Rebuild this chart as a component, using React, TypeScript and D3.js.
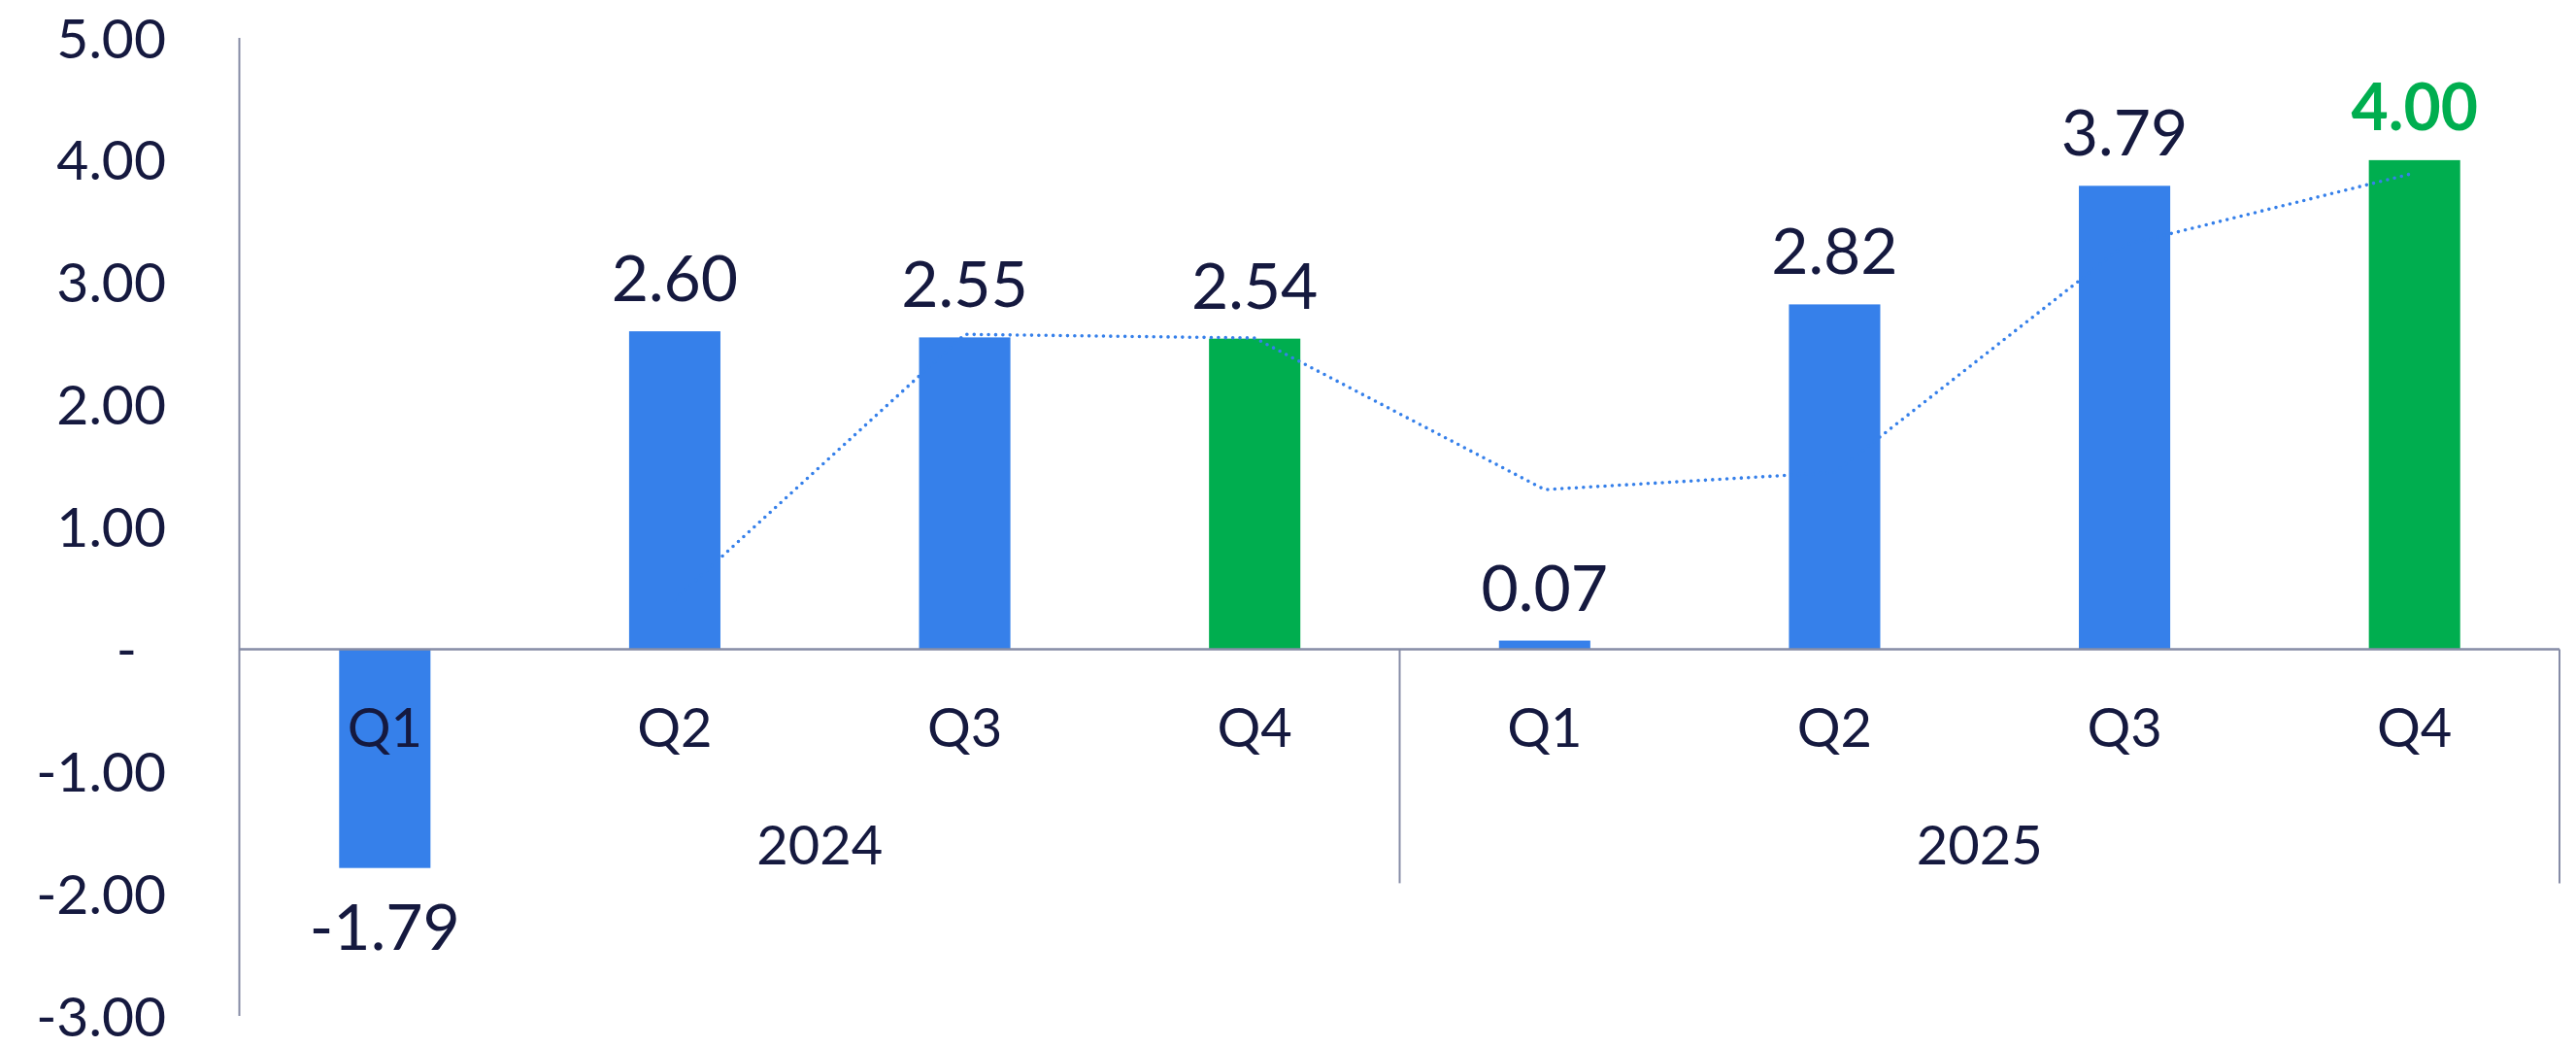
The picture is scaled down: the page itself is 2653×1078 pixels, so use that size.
import React from "react";
import * as d3 from "d3";

const quarters = ["Q1", "Q2", "Q3", "Q4", "Q1", "Q2", "Q3", "Q4"];
const years = ["2024", "2025"];
const quartersPerYear = 4;
const values = [-1.79, 2.6, 2.55, 2.54, 0.07, 2.82, 3.79, 4.0];
const yTicks = [-3, -2, -1, 0, 1, 2, 3, 4, 5];
const yTickLabels = ["-3.00", "-2.00", "-1.00", "-", "1.00", "2.00", "3.00", "4.00", "5.00"];

const W = 2653;
const H = 1078;
const FONT = "Lato, 'Open Sans', sans-serif";
const TEXT = "#15193F";
const BLUE = "#3680EA";
const GREEN = "#00AE4F";
const AXIS = "#868CA6";

export default function App() {
  const left = 247;
  const right = 2636;
  const x = d3
    .scaleBand<number>()
    .domain(values.map((_, i) => i))
    .range([left, right])
    .paddingInner(0.685)
    .paddingOuter(0.3425);
  const y = d3.scaleLinear().domain([-3, 5]).range([1046, 39]);
  const step = x.step();
  const bw = x.bandwidth();
  const cx = (i: number) => (x(i) as number) + bw / 2;
  const y0 = y(0);

  const ma = values.slice(1).map((v, k) => ({ i: k + 1, v: (values[k] + v) / 2 }));
  const line = d3
    .line<{ i: number; v: number }>()
    .x((d) => cx(d.i))
    .y((d) => y(d.v));

  const groupStart = (g: number) => left + step * quartersPerYear * g;

  return (
    <svg
      width={W}
      height={H}
      style={{ position: "absolute", left: 0, top: 0, background: "#fff" }}
      fontFamily={FONT}
    >
      {/* y tick labels */}
      {yTicks.map((t, k) => (
        <text
          key={"yt" + k}
          x={yTickLabels[k] === "-" ? 141 : 171}
          y={y(t)}
          dy="0.36em"
          textAnchor="end"
          fontSize={57}
          fill={TEXT}
        >
          {yTickLabels[k]}
        </text>
      ))}

      {/* bars */}
      {values.map((v, i) => (
        <rect
          key={"b" + i}
          x={x(i)}
          y={Math.min(y(v), y0)}
          width={bw}
          height={Math.abs(y(v) - y0)}
          fill={quarters[i] === "Q4" ? GREEN : BLUE}
        />
      ))}

      {/* axes */}
      <line x1={246.5} x2={246.5} y1={y(5)} y2={y(-3)} stroke={AXIS} strokeWidth={2} />
      <line x1={left} x2={right} y1={y0} y2={y0} stroke={AXIS} strokeWidth={2.5} />
      {years.map((_, g) => (
        <line
          key={"div" + g}
          x1={groupStart(g + 1)}
          x2={groupStart(g + 1)}
          y1={y0}
          y2={y0 + 241}
          stroke={AXIS}
          strokeWidth={2}
        />
      ))}

      {/* moving average trendline */}
      <path
        d={line(ma) || ""}
        fill="none"
        stroke={BLUE}
        strokeWidth={3.6}
        strokeLinecap="round"
        strokeDasharray="0 7.4"
      />

      {/* data labels */}
      {values.map((v, i) => {
        const last = i === values.length - 1;
        return (
          <text
            key={"dl" + i}
            x={cx(i)}
            y={v >= 0 ? y(v) - 31 : y(v) + 84}
            textAnchor="middle"
            fontSize={66}
            fontWeight={last ? 700 : 400}
            fill={last ? GREEN : TEXT}
          >
            {v.toFixed(2)}
          </text>
        );
      })}

      {/* category labels */}
      {quarters.map((q, i) => (
        <text key={"q" + i} x={cx(i)} y={y0 + 101} textAnchor="middle" fontSize={56} fill={TEXT}>
          {q}
        </text>
      ))}
      {years.map((yr, g) => (
        <text
          key={"y" + g}
          x={groupStart(g) + (step * quartersPerYear) / 2}
          y={y0 + 222}
          textAnchor="middle"
          fontSize={56}
          fill={TEXT}
        >
          {yr}
        </text>
      ))}
    </svg>
  );
}
